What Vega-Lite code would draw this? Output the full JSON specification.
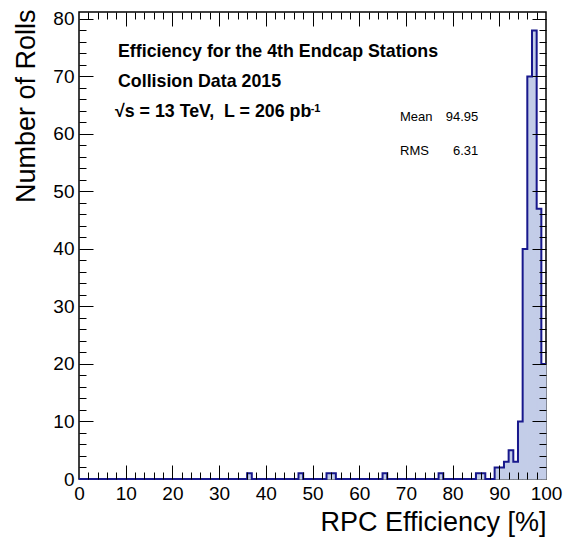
{
  "$schema": "https://vega.github.io/schema/vega-lite/v6.json",
  "width": 467,
  "height": 467,
  "autosize": {"type": "none"},
  "padding": {"left": 79, "top": 12, "right": 20, "bottom": 60},
  "background": "white",
  "config": {
    "view": {"stroke": "black", "strokeWidth": 1.5},
    "font": "Liberation Sans",
    "axis": {"domain": false, "grid": false, "labelFont": "Liberation Sans", "titleFont": "Liberation Sans", "labelColor": "black", "titleColor": "black", "tickColor": "black", "tickWidth": 1}
  },
  "datasets": {
    "hist": [
      {"x0": 0, "x1": 1, "n": 0}, {"x0": 1, "x1": 2, "n": 0}, {"x0": 2, "x1": 3, "n": 0}, {"x0": 3, "x1": 4, "n": 0}, {"x0": 4, "x1": 5, "n": 0},
      {"x0": 5, "x1": 6, "n": 0}, {"x0": 6, "x1": 7, "n": 0}, {"x0": 7, "x1": 8, "n": 0}, {"x0": 8, "x1": 9, "n": 0}, {"x0": 9, "x1": 10, "n": 0},
      {"x0": 10, "x1": 11, "n": 0}, {"x0": 11, "x1": 12, "n": 0}, {"x0": 12, "x1": 13, "n": 0}, {"x0": 13, "x1": 14, "n": 0}, {"x0": 14, "x1": 15, "n": 0},
      {"x0": 15, "x1": 16, "n": 0}, {"x0": 16, "x1": 17, "n": 0}, {"x0": 17, "x1": 18, "n": 0}, {"x0": 18, "x1": 19, "n": 0}, {"x0": 19, "x1": 20, "n": 0},
      {"x0": 20, "x1": 21, "n": 0}, {"x0": 21, "x1": 22, "n": 0}, {"x0": 22, "x1": 23, "n": 0}, {"x0": 23, "x1": 24, "n": 0}, {"x0": 24, "x1": 25, "n": 0},
      {"x0": 25, "x1": 26, "n": 0}, {"x0": 26, "x1": 27, "n": 0}, {"x0": 27, "x1": 28, "n": 0}, {"x0": 28, "x1": 29, "n": 0}, {"x0": 29, "x1": 30, "n": 0},
      {"x0": 30, "x1": 31, "n": 0}, {"x0": 31, "x1": 32, "n": 0}, {"x0": 32, "x1": 33, "n": 0}, {"x0": 33, "x1": 34, "n": 0}, {"x0": 34, "x1": 35, "n": 0},
      {"x0": 35, "x1": 36, "n": 0}, {"x0": 36, "x1": 37, "n": 1}, {"x0": 37, "x1": 38, "n": 0}, {"x0": 38, "x1": 39, "n": 0}, {"x0": 39, "x1": 40, "n": 0},
      {"x0": 40, "x1": 41, "n": 0}, {"x0": 41, "x1": 42, "n": 0}, {"x0": 42, "x1": 43, "n": 0}, {"x0": 43, "x1": 44, "n": 0}, {"x0": 44, "x1": 45, "n": 0},
      {"x0": 45, "x1": 46, "n": 0}, {"x0": 46, "x1": 47, "n": 0}, {"x0": 47, "x1": 48, "n": 1}, {"x0": 48, "x1": 49, "n": 0}, {"x0": 49, "x1": 50, "n": 0},
      {"x0": 50, "x1": 51, "n": 0}, {"x0": 51, "x1": 52, "n": 0}, {"x0": 52, "x1": 53, "n": 0}, {"x0": 53, "x1": 54, "n": 1}, {"x0": 54, "x1": 55, "n": 1},
      {"x0": 55, "x1": 56, "n": 0}, {"x0": 56, "x1": 57, "n": 0}, {"x0": 57, "x1": 58, "n": 0}, {"x0": 58, "x1": 59, "n": 0}, {"x0": 59, "x1": 60, "n": 0},
      {"x0": 60, "x1": 61, "n": 0}, {"x0": 61, "x1": 62, "n": 0}, {"x0": 62, "x1": 63, "n": 0}, {"x0": 63, "x1": 64, "n": 0}, {"x0": 64, "x1": 65, "n": 0},
      {"x0": 65, "x1": 66, "n": 1}, {"x0": 66, "x1": 67, "n": 0}, {"x0": 67, "x1": 68, "n": 0}, {"x0": 68, "x1": 69, "n": 0}, {"x0": 69, "x1": 70, "n": 0},
      {"x0": 70, "x1": 71, "n": 0}, {"x0": 71, "x1": 72, "n": 0}, {"x0": 72, "x1": 73, "n": 0}, {"x0": 73, "x1": 74, "n": 0}, {"x0": 74, "x1": 75, "n": 0},
      {"x0": 75, "x1": 76, "n": 0}, {"x0": 76, "x1": 77, "n": 0}, {"x0": 77, "x1": 78, "n": 1}, {"x0": 78, "x1": 79, "n": 0}, {"x0": 79, "x1": 80, "n": 0},
      {"x0": 80, "x1": 81, "n": 0}, {"x0": 81, "x1": 82, "n": 0}, {"x0": 82, "x1": 83, "n": 0}, {"x0": 83, "x1": 84, "n": 0}, {"x0": 84, "x1": 85, "n": 0},
      {"x0": 85, "x1": 86, "n": 1}, {"x0": 86, "x1": 87, "n": 1}, {"x0": 87, "x1": 88, "n": 0}, {"x0": 88, "x1": 89, "n": 0}, {"x0": 89, "x1": 90, "n": 2},
      {"x0": 90, "x1": 91, "n": 2}, {"x0": 91, "x1": 92, "n": 3}, {"x0": 92, "x1": 93, "n": 5}, {"x0": 93, "x1": 94, "n": 3}, {"x0": 94, "x1": 95, "n": 10},
      {"x0": 95, "x1": 96, "n": 40}, {"x0": 96, "x1": 97, "n": 70}, {"x0": 97, "x1": 98, "n": 78}, {"x0": 98, "x1": 99, "n": 47}, {"x0": 99, "x1": 100, "n": 20}
    ]
  },
  "resolve": {"axis": {"x": "independent", "y": "independent"}},
  "layer": [
    {
      "data": {"name": "hist"},
      "mark": {"type": "rect", "fill": "#c3cde8", "stroke": "#c3cde8", "strokeWidth": 1},
      "encoding": {
        "x": {"field": "x0", "type": "quantitative", "scale": {"domain": [0, 100], "nice": false, "zero": false},
          "axis": {"orient": "bottom", "values": [0, 10, 20, 30, 40, 50, 60, 70, 80, 90, 100], "ticks": false, "labelPadding": 5, "labelFontSize": 19, "labelFlush": false, "labelOverlap": false,
            "title": "RPC Efficiency [%]", "titleFontSize": 27, "titleFontWeight": "normal", "titleAlign": "right", "titleAnchor": "end", "titleBaseline": "alphabetic", "titleX": 467, "titleY": 51}},
        "x2": {"field": "x1"},
        "y": {"field": "n", "type": "quantitative", "scale": {"domain": [0, 81.2], "nice": false},
          "axis": {"orient": "left", "values": [0, 10, 20, 30, 40, 50, 60, 70, 80], "ticks": false, "labelPadding": 5, "labelFontSize": 19, "labelFlush": false, "labelOverlap": false,
            "title": "Number of Rolls", "titleFontSize": 27, "titleFontWeight": "normal", "titleAngle": -90, "titleAlign": "right", "titleAnchor": "end", "titleBaseline": "alphabetic", "titleX": -45, "titleY": -3}},
        "y2": {"datum": 0}
      }
    },
    {
      "data": {"name": "hist"},
      "transform": [{"fold": ["x0", "x1"], "as": ["edge", "xpos"]}],
      "mark": {"type": "line", "color": "#18188c", "strokeWidth": 2},
      "encoding": {
        "x": {"field": "xpos", "type": "quantitative", "scale": {"domain": [0, 100], "nice": false, "zero": false},
          "axis": {"orient": "bottom", "values": [10, 20, 30, 40, 50, 60, 70, 80, 90], "labels": false, "tickSize": -14, "title": null, "zindex": 1}},
        "y": {"field": "n", "type": "quantitative", "scale": {"domain": [0, 81.2], "nice": false},
          "axis": {"orient": "left", "values": [10, 20, 30, 40, 50, 60, 70, 80], "labels": false, "tickSize": -14, "title": null, "zindex": 1}},
        "order": [{"field": "x0", "type": "quantitative"}, {"field": "edge", "type": "nominal"}]
      }
    },
    {
      "data": {"name": "hist"},
      "mark": {"type": "point", "opacity": 0},
      "encoding": {
        "x": {"field": "x0", "type": "quantitative", "scale": {"domain": [0, 100], "nice": false, "zero": false},
          "axis": {"orient": "bottom", "values": [2, 4, 6, 8, 12, 14, 16, 18, 22, 24, 26, 28, 32, 34, 36, 38, 42, 44, 46, 48, 52, 54, 56, 58, 62, 64, 66, 68, 72, 74, 76, 78, 82, 84, 86, 88, 92, 94, 96, 98], "labels": false, "tickSize": -7, "title": null, "zindex": 1}},
        "y": {"field": "n", "type": "quantitative", "scale": {"domain": [0, 81.2], "nice": false},
          "axis": {"orient": "left", "values": [2, 4, 6, 8, 12, 14, 16, 18, 22, 24, 26, 28, 32, 34, 36, 38, 42, 44, 46, 48, 52, 54, 56, 58, 62, 64, 66, 68, 72, 74, 76, 78], "labels": false, "tickSize": -7, "title": null, "zindex": 1}}
      }
    },
    {
      "data": {"name": "hist"},
      "mark": {"type": "point", "opacity": 0},
      "encoding": {
        "x": {"field": "x0", "type": "quantitative", "scale": {"domain": [0, 100], "nice": false, "zero": false},
          "axis": {"orient": "top", "values": [10, 20, 30, 40, 50, 60, 70, 80, 90], "labels": false, "tickSize": -14, "title": null, "zindex": 1}},
        "y": {"field": "n", "type": "quantitative", "scale": {"domain": [0, 81.2], "nice": false},
          "axis": {"orient": "right", "values": [10, 20, 30, 40, 50, 60, 70, 80], "labels": false, "tickSize": -14, "title": null, "zindex": 1}}
      }
    },
    {
      "data": {"name": "hist"},
      "mark": {"type": "point", "opacity": 0},
      "encoding": {
        "x": {"field": "x0", "type": "quantitative", "scale": {"domain": [0, 100], "nice": false, "zero": false},
          "axis": {"orient": "top", "values": [2, 4, 6, 8, 12, 14, 16, 18, 22, 24, 26, 28, 32, 34, 36, 38, 42, 44, 46, 48, 52, 54, 56, 58, 62, 64, 66, 68, 72, 74, 76, 78, 82, 84, 86, 88, 92, 94, 96, 98], "labels": false, "tickSize": -7, "title": null, "zindex": 1}},
        "y": {"field": "n", "type": "quantitative", "scale": {"domain": [0, 81.2], "nice": false},
          "axis": {"orient": "right", "values": [2, 4, 6, 8, 12, 14, 16, 18, 22, 24, 26, 28, 32, 34, 36, 38, 42, 44, 46, 48, 52, 54, 56, 58, 62, 64, 66, 68, 72, 74, 76, 78], "labels": false, "tickSize": -7, "title": null, "zindex": 1}}
      }
    },
    {
      "data": {"values": [{"t": "Efficiency for the 4th Endcap Stations"}]},
      "mark": {"type": "text", "align": "left", "baseline": "alphabetic", "fontSize": 17.8, "fontWeight": "bold", "color": "black"},
      "encoding": {"text": {"field": "t"}, "x": {"datum": 8.35, "type": "quantitative", "axis": null}, "y": {"datum": 73.43, "type": "quantitative", "axis": null}}
    },
    {
      "data": {"values": [{"t": "Collision Data 2015"}]},
      "mark": {"type": "text", "align": "left", "baseline": "alphabetic", "fontSize": 17.8, "fontWeight": "bold", "color": "black"},
      "encoding": {"text": {"field": "t"}, "x": {"datum": 8.35, "type": "quantitative", "axis": null}, "y": {"datum": 68.21, "type": "quantitative", "axis": null}}
    },
    {
      "data": {"values": [{"t": "√s = 13 TeV,\u00a0 L = 206 pb"}]},
      "mark": {"type": "text", "align": "left", "baseline": "alphabetic", "fontSize": 17.8, "fontWeight": "bold", "color": "black"},
      "encoding": {"text": {"field": "t"}, "x": {"datum": 7.71, "type": "quantitative", "axis": null}, "y": {"datum": 62.86, "type": "quantitative", "axis": null}}
    },
    {
      "data": {"values": [{"t": "-1"}]},
      "mark": {"type": "text", "align": "left", "baseline": "alphabetic", "fontSize": 11, "fontWeight": "bold", "color": "black"},
      "encoding": {"text": {"field": "t"}, "x": {"datum": 49.6, "type": "quantitative", "axis": null}, "y": {"datum": 63.87, "type": "quantitative", "axis": null}}
    },
    {
      "data": {"values": [{"t": "Mean"}]},
      "mark": {"type": "text", "align": "left", "baseline": "alphabetic", "fontSize": 13, "color": "black"},
      "encoding": {"text": {"field": "t"}, "x": {"datum": 68.74, "type": "quantitative", "axis": null}, "y": {"datum": 62.25, "type": "quantitative", "axis": null}}
    },
    {
      "data": {"values": [{"t": "94.95"}]},
      "mark": {"type": "text", "align": "right", "baseline": "alphabetic", "fontSize": 13, "color": "black"},
      "encoding": {"text": {"field": "t"}, "x": {"datum": 85.5, "type": "quantitative", "axis": null}, "y": {"datum": 62.25, "type": "quantitative", "axis": null}}
    },
    {
      "data": {"values": [{"t": "RMS"}]},
      "mark": {"type": "text", "align": "left", "baseline": "alphabetic", "fontSize": 13, "color": "black"},
      "encoding": {"text": {"field": "t"}, "x": {"datum": 68.74, "type": "quantitative", "axis": null}, "y": {"datum": 56.34, "type": "quantitative", "axis": null}}
    },
    {
      "data": {"values": [{"t": "6.31"}]},
      "mark": {"type": "text", "align": "right", "baseline": "alphabetic", "fontSize": 13, "color": "black"},
      "encoding": {"text": {"field": "t"}, "x": {"datum": 85.5, "type": "quantitative", "axis": null}, "y": {"datum": 56.34, "type": "quantitative", "axis": null}}
    }
  ]
}
